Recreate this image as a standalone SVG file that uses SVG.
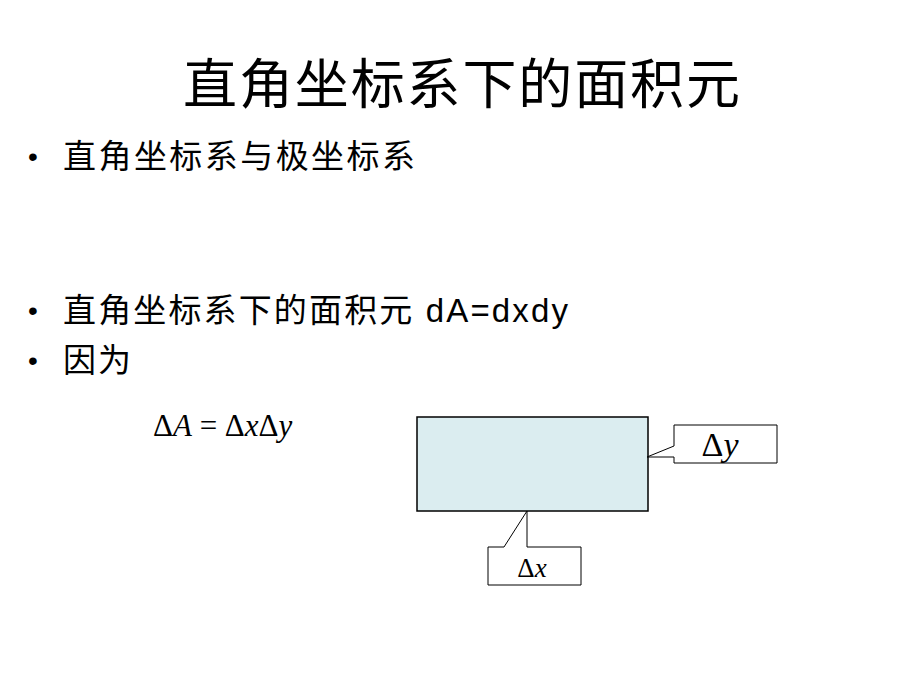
<svg xmlns="http://www.w3.org/2000/svg" width="920" height="690" viewBox="0 0 920 690">
<style>
.t{font-family:"Liberation Sans","Noto Sans CJK SC",sans-serif;fill:#000}
.m{font-family:"Liberation Serif",serif;fill:#000}
.c{fill:#fff;stroke:#000;stroke-width:1}
</style>
<rect width="920" height="690" fill="#fff"/>
<text class="t" x="183" y="104" font-size="54" textLength="557" lengthAdjust="spacing">直角坐标系下的面积元</text>
<g id="bullets" class="t" font-size="33">
<text x="28" y="166" font-size="28">•</text><text x="63" y="168" textLength="352" lengthAdjust="spacing">直角坐标系与极坐标系</text>
<text x="28" y="320" font-size="28">•</text><text x="63" y="322" textLength="505" lengthAdjust="spacing">直角坐标系下的面积元 dA=dxdy</text>
<text x="28" y="370" font-size="28">•</text><text x="63" y="372" textLength="68" lengthAdjust="spacing">因为</text>
</g>
<text class="m" x="153" y="436" font-size="31">Δ<tspan font-style="italic">A</tspan> = Δ<tspan font-style="italic">x</tspan>Δ<tspan font-style="italic">y</tspan></text>
<g id="rect"><rect x="417" y="417" width="231" height="94" fill="#dbedf0" stroke="#000" stroke-width="1.5"/></g>
<g id="dy"><path class="c" d="M674,425 H777 V463 H674 V457 L647,457 L674,446 Z"/>
<text class="m" x="720" y="456" font-size="34" text-anchor="middle">Δ<tspan font-style="italic">y</tspan></text></g>
<g id="dx"><path class="c" d="M488,547 H504 L527,511 V547 H581 V585 H488 Z"/>
<text class="m" x="532" y="577" font-size="27" text-anchor="middle">Δ<tspan font-style="italic">x</tspan></text></g>
</svg>
